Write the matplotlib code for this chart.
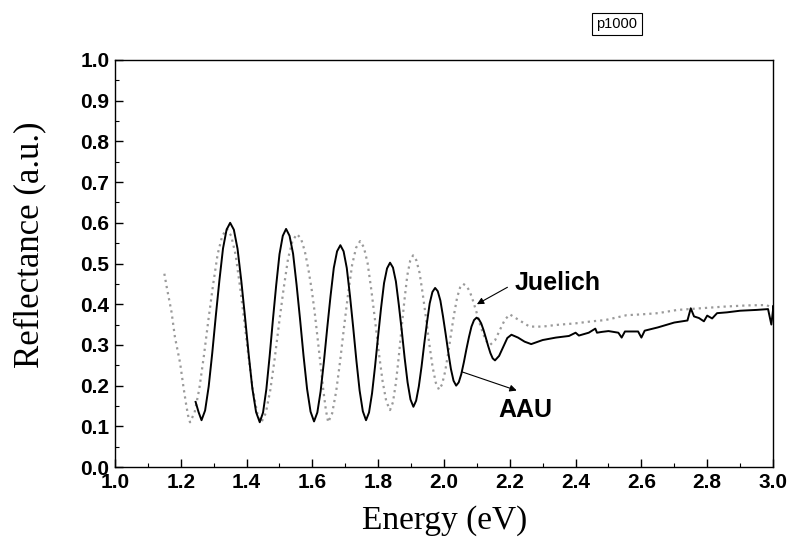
import matplotlib
matplotlib.use("Agg")
import matplotlib.pyplot as plt
from matplotlib.ticker import MultipleLocator

# AAU measurement (solid line)
aau_energy = [1.245, 1.254, 1.263,
              1.2739, 1.2848, 1.2956, 1.3065, 1.3174, 1.3283, 1.3391, 1.350,
              1.3613, 1.3725, 1.3838, 1.395, 1.4063, 1.4175, 1.4288, 1.440,
              1.450, 1.460, 1.470, 1.480, 1.490, 1.500, 1.510, 1.520,
              1.5306, 1.5413, 1.5519, 1.5625, 1.5731, 1.5838, 1.5944, 1.605,
              1.615, 1.625, 1.635, 1.645, 1.655, 1.665, 1.675, 1.685,
              1.6948, 1.7045, 1.7143, 1.724, 1.7338, 1.7435, 1.7533, 1.763,
              1.7721, 1.7813, 1.7904, 1.7995, 1.8086, 1.8178, 1.8269, 1.836,
              1.8449, 1.8538, 1.8626, 1.8715, 1.8804, 1.8893, 1.8981, 1.907,
              1.9153, 1.9235, 1.9318, 1.940, 1.9483, 1.9565, 1.9648, 1.973,
              1.981, 1.989, 1.997, 2.005, 2.013, 2.021, 2.029, 2.037,
              2.0448, 2.0525, 2.0603, 2.068, 2.0758, 2.0835, 2.0913, 2.099,
              2.106, 2.113, 2.120, 2.127, 2.134, 2.141, 2.148, 2.155,
              2.1675, 2.180, 2.1925, 2.205, 2.225, 2.245, 2.265,
              2.30, 2.34, 2.38, 2.40, 2.41, 2.44, 2.46, 2.465, 2.48, 2.50, 2.53,
              2.54, 2.55, 2.59, 2.60, 2.61, 2.65, 2.70, 2.74, 2.75, 2.76, 2.775,
              2.79, 2.80, 2.815, 2.83, 2.86, 2.90, 2.95, 2.985, 2.995, 3.0, 3.0]
aau_reflect = [0.160, 0.135, 0.115,
               0.139, 0.198, 0.280, 0.372, 0.459, 0.537, 0.583, 0.600,
               0.583, 0.536, 0.458, 0.370, 0.277, 0.193, 0.135, 0.110,
               0.134, 0.191, 0.272, 0.362, 0.447, 0.523, 0.568, 0.585,
               0.568, 0.524, 0.448, 0.363, 0.273, 0.192, 0.136, 0.112,
               0.134, 0.186, 0.259, 0.341, 0.419, 0.489, 0.530, 0.545,
               0.530, 0.489, 0.420, 0.343, 0.261, 0.188, 0.137, 0.115,
               0.134, 0.181, 0.247, 0.320, 0.390, 0.452, 0.488, 0.502,
               0.490, 0.456, 0.399, 0.336, 0.268, 0.208, 0.166, 0.148,
               0.163, 0.198, 0.247, 0.303, 0.355, 0.402, 0.430, 0.440,
               0.432, 0.409, 0.370, 0.327, 0.282, 0.241, 0.212, 0.200,
               0.208, 0.228, 0.257, 0.289, 0.319, 0.345, 0.361, 0.367,
               0.363, 0.353, 0.337, 0.318, 0.298, 0.280, 0.267, 0.262,
               0.273, 0.295, 0.317, 0.325, 0.318, 0.308, 0.302,
               0.312, 0.318, 0.322, 0.330, 0.323, 0.330, 0.340, 0.330, 0.332, 0.334, 0.330,
               0.318, 0.333, 0.333, 0.318, 0.335, 0.343, 0.355, 0.360, 0.390, 0.370, 0.366,
               0.358, 0.372, 0.365, 0.378, 0.380, 0.384, 0.386, 0.388, 0.350, 0.385, 0.395]

# Juelich measurement (dotted line)
jue_energy = [1.150, 1.157, 1.172, 1.182, 1.198, 1.208, 1.216, 1.222, 1.228,
              1.242, 1.256, 1.270, 1.284, 1.298, 1.312, 1.326, 1.340,
              1.3531, 1.3663, 1.3794, 1.3925, 1.4056, 1.4188, 1.4319, 1.445,
              1.4585, 1.472, 1.4855, 1.499, 1.5125, 1.526, 1.5395, 1.553,
              1.565, 1.577, 1.588, 1.598, 1.607, 1.616, 1.625, 1.633, 1.641, 1.648,
              1.6601, 1.6723, 1.6844, 1.6965, 1.7086, 1.7208, 1.7329, 1.745,
              1.7564, 1.7678, 1.7791, 1.7905, 1.8019, 1.8133, 1.8246, 1.836,
              1.8448, 1.8535, 1.8623, 1.871, 1.8798, 1.8885, 1.8973, 1.906,
              1.9159, 1.9258, 1.9356, 1.9455, 1.9554, 1.9653, 1.9751, 1.985,
              1.9941, 2.0033, 2.0124, 2.0215, 2.0306, 2.0398, 2.0489, 2.058,
              2.0683, 2.0785, 2.0888, 2.099, 2.1093, 2.1195, 2.1298, 2.140,
              2.155, 2.170, 2.185, 2.200, 2.230, 2.260, 2.300, 2.340, 2.400,
              2.450, 2.490, 2.555, 2.600, 2.650, 2.710, 2.780, 2.850, 2.920, 2.980, 3.000]
jue_reflect = [0.475, 0.443, 0.380, 0.320, 0.255, 0.197, 0.155, 0.127, 0.110,
               0.134, 0.191, 0.272, 0.362, 0.447, 0.523, 0.568, 0.585,
               0.568, 0.523, 0.447, 0.362, 0.272, 0.191, 0.134, 0.110,
               0.133, 0.189, 0.267, 0.355, 0.438, 0.512, 0.556, 0.572,
               0.562, 0.530, 0.485, 0.435, 0.380, 0.315, 0.250, 0.190, 0.140, 0.110,
               0.132, 0.186, 0.261, 0.346, 0.426, 0.497, 0.539, 0.555,
               0.540, 0.501, 0.435, 0.360, 0.281, 0.211, 0.161, 0.140,
               0.159, 0.205, 0.269, 0.341, 0.410, 0.471, 0.507, 0.520,
               0.508, 0.477, 0.424, 0.365, 0.302, 0.246, 0.207, 0.190,
               0.203, 0.234, 0.278, 0.328, 0.375, 0.416, 0.441, 0.450,
               0.445, 0.431, 0.407, 0.380, 0.351, 0.326, 0.308, 0.300,
               0.311, 0.337, 0.362, 0.375, 0.360, 0.345, 0.345, 0.349, 0.353,
               0.358, 0.361, 0.373, 0.375, 0.378, 0.386, 0.390, 0.394, 0.397, 0.398, 0.390]

x_ticks = [1.0, 1.2, 1.4, 1.6, 1.8, 2.0, 2.2, 2.4, 2.6, 2.8, 3.0]
y_ticks = [0.0, 0.1, 0.2, 0.3, 0.4, 0.5, 0.6, 0.7, 0.8, 0.9, 1.0]

fig = plt.figure(figsize=(7.92, 5.54), dpi=100)
ax = fig.add_axes([0.1452, 0.157, 0.8308, 0.7347])

ax.plot(jue_energy, jue_reflect, color="#9a9a9a", lw=1.6, linestyle=(0, (1, 1.8)))
ax.plot(aau_energy, aau_reflect, color="black", lw=1.4, solid_joinstyle="round")

ax.set_xlim(1.0, 3.0)
ax.set_ylim(0.0, 1.0)
ax.set_xticks(x_ticks)
ax.set_yticks(y_ticks)
ax.xaxis.set_minor_locator(MultipleLocator(0.1))
ax.yaxis.set_minor_locator(MultipleLocator(0.05))
ax.tick_params(which="both", direction="in", top=False, right=False)
ax.tick_params(which="major", length=6, width=1, pad=4)
ax.tick_params(which="minor", length=3, width=0.8)
tick_font = dict(family="Liberation Sans", weight="bold", size=15)
ax.set_xticklabels([f"{v:.1f}" for v in x_ticks], fontdict=tick_font)
ax.set_yticklabels([f"{v:.1f}" for v in y_ticks], fontdict=tick_font)
for s in ax.spines.values():
    s.set_linewidth(1.0)

ax.set_xlabel("Energy (eV)", fontfamily="Liberation Serif", fontsize=24, va="top")
ax.xaxis.set_label_coords(0.5007, -0.095)
ax.set_ylabel("Reflectance (a.u.)", fontfamily="Liberation Serif", fontsize=25)
ax.yaxis.set_label_coords(-0.105, 0.545)

ax.annotate("Juelich", xy=(2.10, 0.40), xytext=(2.216, 0.452),
            fontsize=18, fontfamily="Liberation Sans", fontweight="bold",
            va="center", ha="left",
            arrowprops=dict(arrowstyle="-|>", color="black", lw=0.8,
                            mutation_scale=10, shrinkA=4, shrinkB=0,
                            relpos=(0.0, 0.5)))
ax.annotate("", xy=(2.221, 0.188), xytext=(2.054, 0.234),
            arrowprops=dict(arrowstyle="-|>", color="black", lw=0.8,
                            mutation_scale=10, shrinkA=0, shrinkB=0))
ax.text(2.164, 0.14, "AAU", fontsize=18, fontfamily="Liberation Sans",
        fontweight="bold", va="center", ha="left")

fig.text(617 / 792, 1 - 24 / 554, "p1000", fontsize=10.5, fontfamily="Liberation Sans",
         ha="center", va="center",
         bbox=dict(boxstyle="square,pad=0.3", fc="white", ec="black", lw=0.8))

fig.savefig("out.png", dpi=100)
